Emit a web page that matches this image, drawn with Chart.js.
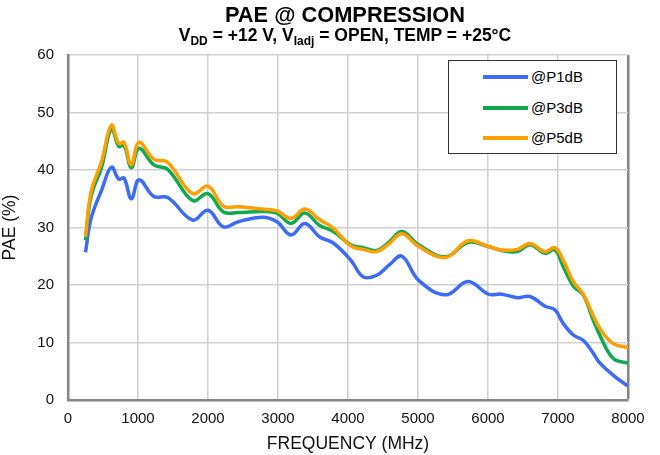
<!DOCTYPE html>
<html>
<head>
<meta charset="utf-8">
<script src="https://cdn.jsdelivr.net/npm/chart.js@4/dist/chart.umd.min.js"></script>
<style>
  body { margin: 0; background: #fff; font-family: Arial, "Liberation Sans", sans-serif; }
  #wrap { position: relative; width: 660px; height: 455px; }
  #chart { position: absolute; left: 0; top: 0; }
  .title { position: absolute; left: 0; width: 690px; text-align: center; font-weight: bold; color: #000; white-space: nowrap; }
  #t1 { top: 3px; font-size: 21.8px; line-height: 24px; }
  #t2 { top: 25px; font-size: 17.5px; line-height: 20px; }
  #t2 .sb { font-size: 12px; position: relative; top: 4px; }
  #legend { position: absolute; left: 448px; top: 60px; width: 167px; height: 92px; border: 1.5px solid #333; background: #fff; }
  .item { position: absolute; left: 0; height: 20px; width: 160px; }
  .item .ln { position: absolute; left: 34px; top: 8px; width: 45px; height: 4px; }
  .item .tx { position: absolute; left: 82px; top: 0; font-size: 15px; line-height: 20px; color: #000; }
</style>
</head>
<body>
<div id="wrap">
  <canvas id="chart" width="660" height="455"></canvas>
  <div class="title" id="t1">PAE @ COMPRESSION</div>
  <div class="title" id="t2">V<span class="sb">DD</span> = +12 V, V<span class="sb">Iadj</span> = OPEN, TEMP = +25°C</div>
  <div id="legend"></div>
</div>
<script>
/* ---------- DATA ---------- */
const freq = [250, 330, 480, 620, 725, 800, 905, 1015, 1225, 1425, 1780, 2000, 2220, 2430, 2780, 2985, 3185, 3385, 3590, 3790, 4040, 4220, 4410, 4590, 4770, 5010, 5395, 5715, 6005, 6195, 6420, 6600, 6815, 6955, 7075, 7220, 7360, 7500, 7600, 7790, 8000];
const p1dB = [25.7, 31.6, 36.5, 40.5, 38.4, 38.6, 35.0, 38.3, 35.4, 35.2, 31.3, 33.0, 30.1, 31.0, 31.8, 31.0, 28.7, 30.7, 28.4, 27.3, 24.3, 21.4, 21.7, 23.5, 25.0, 20.8, 18.3, 20.6, 18.4, 18.4, 17.8, 18.0, 16.3, 15.7, 13.3, 11.3, 10.4, 8.2, 6.4, 4.3, 2.4];
const p3dB = [27.8, 35.4, 40.5, 47.2, 44.1, 44.3, 40.4, 43.8, 40.9, 40.1, 34.7, 35.9, 32.7, 32.6, 32.8, 32.5, 30.7, 32.5, 30.4, 29.3, 27.0, 26.5, 26.0, 27.5, 29.3, 27.0, 24.9, 27.4, 26.7, 26.0, 25.8, 27.0, 25.5, 26.1, 23.2, 19.8, 18.3, 14.0, 11.2, 7.2, 6.4];
const p5dB = [28.4, 36.2, 41.5, 47.8, 44.6, 44.8, 40.9, 44.8, 41.9, 41.3, 35.9, 37.2, 33.7, 33.6, 33.2, 32.9, 31.6, 33.2, 31.4, 29.9, 26.8, 26.2, 25.8, 27.2, 28.9, 26.7, 24.8, 27.7, 26.7, 26.1, 26.2, 27.2, 25.8, 26.5, 24.3, 20.6, 18.4, 14.8, 12.4, 9.8, 9.1];

const seriesNames = ["@P1dB", "@P3dB", "@P5dB"];
const seriesColors = ["#3c6cf7", "#10a850", "#ff9f00"];

/* ---------- STYLE ---------- */
const font = "Arial, 'Liberation Sans', sans-serif";
const gridColor = "#d0d0d0";
const axisColor = "#858585";

function pts(vals) {
  return freq.map((f, i) => ({ x: f, y: vals[i] }));
}

const allSeries = [p1dB, p3dB, p5dB];

/* ---------- LEGEND (html) ---------- */
const legend = document.getElementById("legend");
seriesNames.forEach((name, i) => {
  const div = document.createElement("div");
  div.className = "item";
  div.style.top = (6 + i * 30.5) + "px";
  div.innerHTML = '<div class="ln" style="background:' + seriesColors[i] + '"></div><div class="tx">' + name + '</div>';
  legend.appendChild(div);
});

/* ---------- CHART ---------- */
new Chart(document.getElementById("chart"), {
  type: "line",
  data: {
    datasets: allSeries.map((vals, i) => ({
      label: seriesNames[i],
      data: pts(vals),
      borderColor: seriesColors[i],
      backgroundColor: seriesColors[i],
      borderWidth: 3.5,
      pointRadius: 0,
      tension: 0.4,
      fill: false,
      order: 3 - i
    }))
  },
  options: {
    responsive: false,
    devicePixelRatio: 1,
    animation: false,
    layout: { padding: { left: 0, top: 55, right: 32, bottom: 0 } },
    plugins: { legend: { display: false }, tooltip: { enabled: false } },
    scales: {
      x: {
        type: "linear",
        min: 0, max: 8000,
        afterFit: s => { s.height = 55; },
        ticks: { stepSize: 1000, padding: 10, color: "#111", font: { family: font, size: 15 },
                 callback: v => String(v) },
        grid: {
          drawTicks: false,
          color: c => (c.tick && c.tick.value === 8000) ? axisColor : gridColor,
          lineWidth: c => (c.tick && c.tick.value === 8000) ? 2.5 : 1.5
        },
        border: { color: axisColor, width: 2.5 },
        title: { display: true, text: "FREQUENCY (MHz)", color: "#111",
                 font: { family: font, size: 17.5 }, padding: { top: 0, bottom: 0 } }
      },
      y: {
        min: 0, max: 60,
        afterFit: s => { s.width = 68; },
        ticks: { stepSize: 10, padding: 14, color: "#111", font: { family: font, size: 15 } },
        grid: { drawTicks: false, color: gridColor, lineWidth: 1.5 },
        border: { color: axisColor, width: 2.5 },
        title: { display: true, text: "PAE (%)", color: "#111",
                 font: { family: font, size: 17.5 }, padding: { top: 0, bottom: 0 } }
      }
    }
  }
});
</script>
</body>
</html>
